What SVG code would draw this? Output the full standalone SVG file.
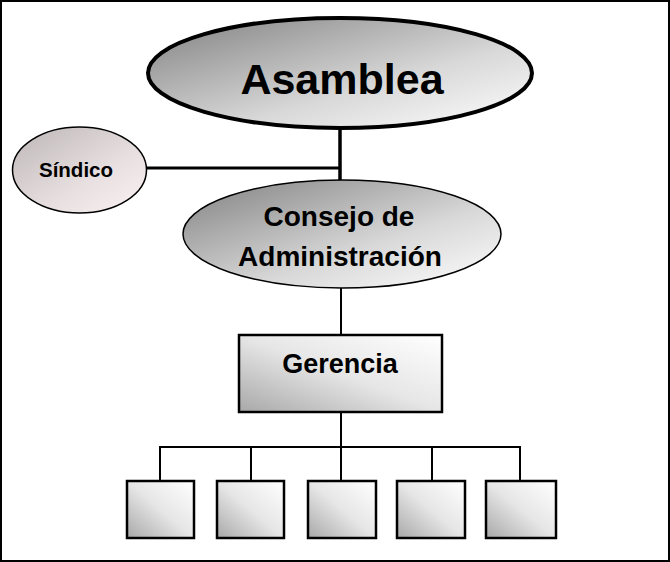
<svg xmlns="http://www.w3.org/2000/svg" width="670" height="562" viewBox="0 0 670 562">
<defs>
<linearGradient id="gEll" x1="0" y1="0" x2="1" y2="1">
<stop offset="0" stop-color="#808080"/>
<stop offset="0.6" stop-color="#d8d8d8"/>
<stop offset="1" stop-color="#ffffff"/>
</linearGradient>
<linearGradient id="gSin" x1="0" y1="0" x2="1" y2="1">
<stop offset="0" stop-color="#bdb6b6"/>
<stop offset="0.6" stop-color="#e8e0e0"/>
<stop offset="1" stop-color="#fbf3f3"/>
</linearGradient>
<linearGradient id="gBox" x1="1" y1="0" x2="0" y2="1">
<stop offset="0" stop-color="#ffffff"/>
<stop offset="0.5" stop-color="#e6e6e6"/>
<stop offset="1" stop-color="#a8a8a8"/>
</linearGradient>
</defs>
<style>
.t{font-family:"Liberation Sans",Arial,sans-serif;font-weight:bold;fill:#000;text-anchor:middle}
.ln{stroke:#000;fill:none}
.box{fill:url(#gBox);stroke:#000;stroke-width:2.5}
</style>
<rect x="1" y="1" width="668" height="560" fill="#fff" stroke="#000" stroke-width="2"/>
<g id="connectors">
<line class="ln" x1="340" y1="128" x2="340" y2="182" stroke-width="3.5"/>
<line class="ln" x1="146" y1="168" x2="340" y2="168" stroke-width="3"/>
<line class="ln" x1="341" y1="288" x2="341" y2="335" stroke-width="2"/>
<line class="ln" x1="341" y1="412" x2="341" y2="481" stroke-width="2"/>
<polyline class="ln" points="160,481 160,447 520,447 520,481" stroke-width="2"/>
<line class="ln" x1="251" y1="447" x2="251" y2="481" stroke-width="2"/>
<line class="ln" x1="432" y1="447" x2="432" y2="481" stroke-width="2"/>
</g>
<g id="asamblea">
<ellipse cx="340" cy="73" rx="192" ry="55" fill="url(#gEll)" stroke="#000" stroke-width="4"/>
<text class="t" x="342" y="94" font-size="43">Asamblea</text>
</g>
<g id="sindico">
<ellipse cx="79.5" cy="170" rx="67" ry="43" fill="url(#gSin)" stroke="#000" stroke-width="1.5"/>
<text class="t" x="76" y="177" font-size="20.5">Síndico</text>
</g>
<g id="consejo">
<ellipse cx="342" cy="234" rx="159" ry="54" fill="url(#gEll)" stroke="#000" stroke-width="1.5"/>
<text class="t" x="339" y="226" font-size="28">Consejo de</text>
<text class="t" x="340" y="266" font-size="28">Administración</text>
</g>
<g id="gerencia">
<rect class="box" x="239" y="335" width="203" height="77"/>
<text class="t" x="340" y="373" font-size="27">Gerencia</text>
</g>
<g id="box1"><rect class="box" x="127" y="481" width="67" height="57"/></g>
<g id="box2"><rect class="box" x="217" y="481" width="67" height="57"/></g>
<g id="box3"><rect class="box" x="308" y="481" width="68" height="57"/></g>
<g id="box4"><rect class="box" x="397" y="481" width="68" height="57"/></g>
<g id="box5"><rect class="box" x="486" y="481" width="70" height="57"/></g>
</svg>
